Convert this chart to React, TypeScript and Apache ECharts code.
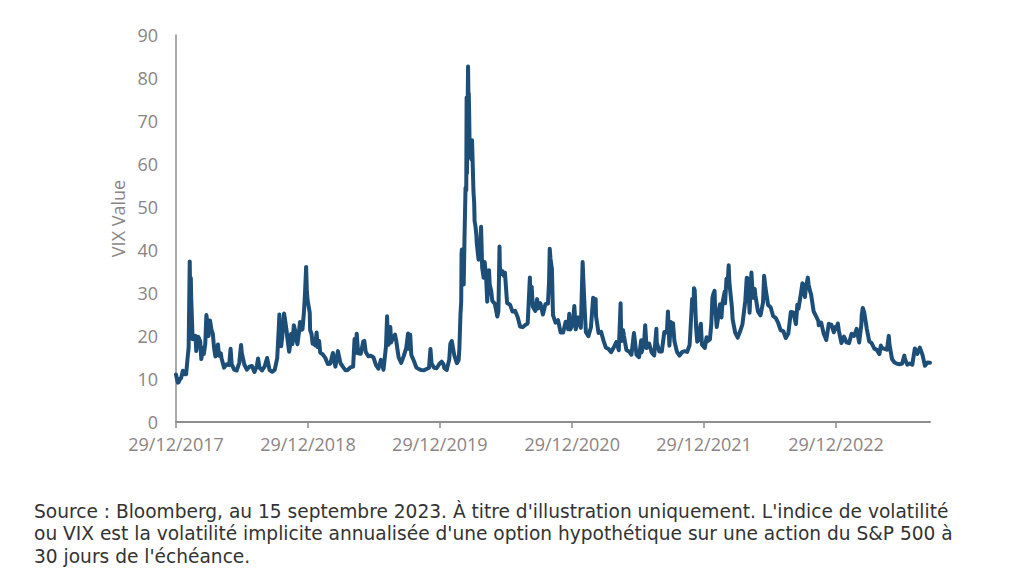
import React, { useEffect, useRef } from "react";
import * as echarts from "echarts";

const tickLabels = ["29/12/2017", "29/12/2018", "29/12/2019", "29/12/2020", "29/12/2021", "29/12/2022"];
const startDate = "2017-12-29";
const endDate = "2023-09-15";
const yTicks = { min: 0, max: 90, step: 10 };
const yAxisName = "VIX Value";
const caption =
  "Source : Bloomberg, au 15 septembre 2023. À titre d'illustration uniquement. L'indice de volatilité\nou VIX est la volatilité implicite annualisée d'une option hypothétique sur une action du S&P 500 à\n30 jours de l'échéance.";

const vix2018: [string, number][] = [
  ["2017-12-29", 11.04], ["2018-01-03", 9.15], ["2018-01-05", 9.22], ["2018-01-10", 10.08], ["2018-01-12", 10.16],
  ["2018-01-17", 11.91], ["2018-01-19", 11.27], ["2018-01-23", 11.1], ["2018-01-26", 11.08], ["2018-01-30", 14.79],
  ["2018-02-02", 17.31], ["2018-02-05", 37.32], ["2018-02-06", 29.98], ["2018-02-07", 27.73], ["2018-02-08", 33.46],
  ["2018-02-09", 29.06], ["2018-02-13", 19.26], ["2018-02-16", 19.46], ["2018-02-21", 20.02], ["2018-02-23", 16.49],
  ["2018-02-28", 19.85], ["2018-03-02", 19.59], ["2018-03-06", 18.73], ["2018-03-09", 14.64], ["2018-03-14", 17.23],
  ["2018-03-16", 15.8], ["2018-03-20", 18.2], ["2018-03-23", 24.87], ["2018-03-27", 22.5], ["2018-03-29", 19.97],
  ["2018-04-02", 23.62], ["2018-04-06", 21.49], ["2018-04-10", 20.47], ["2018-04-13", 17.41], ["2018-04-17", 15.25],
  ["2018-04-20", 16.88], ["2018-04-24", 18.02], ["2018-04-27", 15.41], ["2018-05-02", 15.97], ["2018-05-04", 14.77],
  ["2018-05-11", 12.65], ["2018-05-18", 13.42], ["2018-05-25", 13.22], ["2018-05-29", 17.02], ["2018-06-01", 13.46],
  ["2018-06-08", 12.18], ["2018-06-15", 11.98], ["2018-06-22", 13.77], ["2018-06-27", 17.91], ["2018-06-29", 16.09],
  ["2018-07-06", 13.37], ["2018-07-13", 12.18], ["2018-07-20", 12.86], ["2018-07-27", 13.03], ["2018-08-03", 11.64],
  ["2018-08-10", 13.16], ["2018-08-13", 14.78], ["2018-08-17", 12.64], ["2018-08-24", 11.99], ["2018-08-31", 12.86],
  ["2018-09-07", 14.88], ["2018-09-14", 12.07], ["2018-09-21", 11.68], ["2018-09-28", 12.12], ["2018-10-05", 14.82],
  ["2018-10-10", 22.96], ["2018-10-11", 24.98], ["2018-10-12", 21.31], ["2018-10-16", 17.62], ["2018-10-19", 19.89],
  ["2018-10-24", 25.23], ["2018-10-26", 24.16], ["2018-10-31", 21.23], ["2018-11-02", 19.51], ["2018-11-07", 16.36],
  ["2018-11-09", 17.36], ["2018-11-12", 20.45], ["2018-11-16", 18.14], ["2018-11-20", 22.48], ["2018-11-23", 21.52],
  ["2018-11-27", 19.02], ["2018-11-30", 18.07], ["2018-12-04", 20.74], ["2018-12-07", 23.23], ["2018-12-12", 21.46],
  ["2018-12-14", 21.63], ["2018-12-18", 25.58], ["2018-12-21", 30.11], ["2018-12-24", 36.07], ["2018-12-26", 30.41],
  ["2018-12-28", 28.34],
];

const vix2019: [string, number][] = [
  ["2019-01-03", 25.45], ["2019-01-04", 21.38], ["2019-01-08", 20.47], ["2019-01-11", 18.19], ["2019-01-15", 18.6],
  ["2019-01-18", 17.8], ["2019-01-22", 20.8], ["2019-01-25", 17.42], ["2019-01-29", 18.87], ["2019-02-01", 16.14],
  ["2019-02-08", 15.72], ["2019-02-15", 14.91], ["2019-02-22", 13.51], ["2019-03-01", 13.57], ["2019-03-08", 16.05],
  ["2019-03-15", 12.88], ["2019-03-22", 16.48], ["2019-03-29", 13.71], ["2019-04-05", 12.82], ["2019-04-12", 12.01],
  ["2019-04-18", 12.09], ["2019-04-26", 12.73], ["2019-05-03", 12.87], ["2019-05-07", 19.32], ["2019-05-10", 16.04],
  ["2019-05-13", 20.55], ["2019-05-17", 15.96], ["2019-05-24", 15.85], ["2019-05-31", 18.71], ["2019-06-03", 18.86],
  ["2019-06-07", 16.3], ["2019-06-14", 15.28], ["2019-06-21", 15.4], ["2019-06-28", 15.08], ["2019-07-05", 13.28],
  ["2019-07-12", 12.39], ["2019-07-19", 14.45], ["2019-07-26", 12.16], ["2019-08-02", 17.61], ["2019-08-05", 24.59],
  ["2019-08-07", 19.49], ["2019-08-09", 17.97], ["2019-08-14", 22.1], ["2019-08-16", 18.47], ["2019-08-23", 19.87],
  ["2019-08-27", 20.31], ["2019-08-30", 18.98], ["2019-09-06", 15.0], ["2019-09-13", 13.74], ["2019-09-20", 15.32],
  ["2019-09-27", 17.22], ["2019-10-02", 20.56], ["2019-10-04", 17.04], ["2019-10-08", 20.28], ["2019-10-11", 15.58],
  ["2019-10-18", 14.25], ["2019-10-25", 12.65], ["2019-11-01", 12.3], ["2019-11-08", 12.07], ["2019-11-15", 12.05],
  ["2019-11-22", 12.34], ["2019-11-29", 12.62], ["2019-12-03", 16.97], ["2019-12-06", 13.62], ["2019-12-13", 12.63],
  ["2019-12-20", 12.51], ["2019-12-27", 13.43],
];

const vix2020: [string, number][] = [
  ["2019-12-31", 13.78], ["2020-01-03", 14.02], ["2020-01-08", 13.45], ["2020-01-10", 12.56], ["2020-01-17", 12.1],
  ["2020-01-24", 14.56], ["2020-01-27", 18.23], ["2020-01-31", 18.84], ["2020-02-07", 15.47], ["2020-02-14", 13.68],
  ["2020-02-19", 14.38], ["2020-02-21", 17.08], ["2020-02-24", 25.03], ["2020-02-26", 27.85], ["2020-02-27", 39.16],
  ["2020-02-28", 40.11], ["2020-03-03", 36.82], ["2020-03-04", 31.99], ["2020-03-06", 41.94], ["2020-03-09", 54.46],
  ["2020-03-11", 53.9], ["2020-03-12", 75.47], ["2020-03-13", 57.83], ["2020-03-16", 82.69], ["2020-03-17", 75.91],
  ["2020-03-18", 76.45], ["2020-03-19", 72.0], ["2020-03-20", 66.04], ["2020-03-23", 61.59], ["2020-03-24", 61.67],
  ["2020-03-26", 61.0], ["2020-03-27", 65.54], ["2020-03-31", 53.54], ["2020-04-02", 50.91], ["2020-04-03", 46.8],
  ["2020-04-06", 45.24], ["2020-04-08", 43.35], ["2020-04-09", 41.67], ["2020-04-14", 37.76], ["2020-04-17", 38.15],
  ["2020-04-21", 45.41], ["2020-04-24", 35.93], ["2020-04-28", 33.57], ["2020-05-01", 37.19], ["2020-05-05", 33.61],
  ["2020-05-08", 27.98], ["2020-05-13", 35.28], ["2020-05-15", 31.89], ["2020-05-19", 30.53], ["2020-05-22", 28.16],
  ["2020-05-29", 27.51], ["2020-06-05", 24.52], ["2020-06-08", 25.81], ["2020-06-11", 40.79], ["2020-06-12", 36.09],
  ["2020-06-15", 34.4], ["2020-06-19", 35.12], ["2020-06-24", 33.84], ["2020-06-26", 34.73], ["2020-07-02", 27.68],
  ["2020-07-10", 27.29], ["2020-07-17", 25.68], ["2020-07-24", 25.84], ["2020-07-31", 24.46], ["2020-08-07", 22.21],
  ["2020-08-14", 22.05], ["2020-08-21", 22.54], ["2020-08-28", 22.96], ["2020-09-03", 33.6], ["2020-09-04", 30.75],
  ["2020-09-08", 31.46], ["2020-09-11", 26.87], ["2020-09-18", 25.83], ["2020-09-23", 28.58], ["2020-09-25", 26.38],
  ["2020-10-02", 27.63], ["2020-10-09", 25.0], ["2020-10-16", 27.41], ["2020-10-23", 27.55], ["2020-10-26", 32.46],
  ["2020-10-28", 40.28], ["2020-10-30", 38.02], ["2020-11-03", 35.55], ["2020-11-06", 24.86], ["2020-11-13", 23.1],
  ["2020-11-20", 23.7], ["2020-11-27", 20.84], ["2020-12-04", 20.79], ["2020-12-11", 23.31], ["2020-12-18", 21.57],
  ["2020-12-21", 25.16], ["2020-12-24", 21.53], ["2020-12-31", 22.75],
];

const vix2021: [string, number][] = [
  ["2021-01-04", 26.97], ["2021-01-08", 21.56], ["2021-01-15", 24.34], ["2021-01-22", 21.91], ["2021-01-27", 37.21],
  ["2021-01-29", 33.09], ["2021-02-02", 25.56], ["2021-02-05", 20.87], ["2021-02-12", 19.97], ["2021-02-19", 22.05],
  ["2021-02-25", 28.89], ["2021-02-26", 27.95], ["2021-03-04", 28.57], ["2021-03-05", 24.66], ["2021-03-12", 20.69],
  ["2021-03-19", 20.95], ["2021-03-26", 18.86], ["2021-04-01", 17.33], ["2021-04-09", 16.95], ["2021-04-16", 16.25],
  ["2021-04-23", 17.33], ["2021-04-30", 18.61], ["2021-05-07", 16.69], ["2021-05-12", 27.59], ["2021-05-14", 18.81],
  ["2021-05-19", 21.34], ["2021-05-21", 20.15], ["2021-05-28", 16.76], ["2021-06-04", 16.42], ["2021-06-11", 15.65],
  ["2021-06-18", 20.7], ["2021-06-25", 15.62], ["2021-07-02", 15.07], ["2021-07-08", 19.0], ["2021-07-09", 16.18],
  ["2021-07-16", 18.45], ["2021-07-19", 22.5], ["2021-07-23", 17.2], ["2021-07-30", 18.24], ["2021-08-06", 16.15],
  ["2021-08-13", 15.45], ["2021-08-19", 21.67], ["2021-08-20", 18.56], ["2021-08-27", 16.39], ["2021-09-03", 16.41],
  ["2021-09-10", 20.95], ["2021-09-17", 20.81], ["2021-09-20", 25.71], ["2021-09-24", 17.75], ["2021-09-28", 23.25],
  ["2021-10-01", 21.15], ["2021-10-04", 22.96], ["2021-10-08", 18.77], ["2021-10-15", 16.3], ["2021-10-22", 15.43],
  ["2021-10-29", 16.26], ["2021-11-05", 16.48], ["2021-11-12", 16.29], ["2021-11-19", 17.91], ["2021-11-26", 28.62],
  ["2021-11-30", 27.19], ["2021-12-01", 31.12], ["2021-12-03", 30.67], ["2021-12-07", 21.89], ["2021-12-10", 18.69],
  ["2021-12-15", 19.29], ["2021-12-17", 21.57], ["2021-12-20", 22.87], ["2021-12-23", 17.96], ["2021-12-31", 17.22],
];

const vix2022: [string, number][] = [
  ["2022-01-05", 19.73], ["2022-01-07", 18.76], ["2022-01-14", 19.19], ["2022-01-18", 22.79], ["2022-01-21", 28.85],
  ["2022-01-24", 29.9], ["2022-01-27", 30.49], ["2022-01-28", 27.66], ["2022-02-02", 22.09], ["2022-02-04", 23.22],
  ["2022-02-11", 27.36], ["2022-02-15", 24.29], ["2022-02-18", 27.75], ["2022-02-24", 30.32], ["2022-02-25", 27.59],
  ["2022-03-01", 33.32], ["2022-03-04", 31.98], ["2022-03-07", 36.45], ["2022-03-09", 32.45], ["2022-03-11", 30.75],
  ["2022-03-16", 26.67], ["2022-03-18", 23.87], ["2022-03-25", 20.81], ["2022-04-01", 19.63], ["2022-04-08", 21.16],
  ["2022-04-14", 22.7], ["2022-04-22", 28.21], ["2022-04-26", 33.52], ["2022-04-29", 33.4], ["2022-05-04", 25.42],
  ["2022-05-06", 30.19], ["2022-05-09", 34.75], ["2022-05-13", 28.87], ["2022-05-18", 30.96], ["2022-05-20", 29.43],
  ["2022-05-27", 25.72], ["2022-06-03", 24.79], ["2022-06-10", 27.75], ["2022-06-13", 34.02], ["2022-06-17", 31.13],
  ["2022-06-24", 27.23], ["2022-07-01", 26.7], ["2022-07-08", 24.64], ["2022-07-15", 24.23], ["2022-07-22", 23.03],
  ["2022-07-29", 21.33], ["2022-08-05", 21.15], ["2022-08-12", 19.53], ["2022-08-19", 20.6], ["2022-08-26", 25.56],
  ["2022-09-02", 25.47], ["2022-09-09", 22.79], ["2022-09-13", 27.27], ["2022-09-16", 26.3], ["2022-09-23", 29.92],
  ["2022-09-27", 32.27], ["2022-09-30", 31.62], ["2022-10-04", 29.07], ["2022-10-07", 31.36], ["2022-10-12", 33.57],
  ["2022-10-14", 32.02], ["2022-10-18", 30.5], ["2022-10-21", 29.69], ["2022-10-28", 25.75], ["2022-11-04", 24.55],
  ["2022-11-10", 23.53], ["2022-11-11", 22.52], ["2022-11-18", 23.12], ["2022-11-25", 20.5], ["2022-12-02", 19.06],
  ["2022-12-09", 22.83], ["2022-12-13", 22.55], ["2022-12-16", 22.62], ["2022-12-23", 20.87], ["2022-12-28", 22.14],
  ["2022-12-30", 21.67],
];

const vix2023: [string, number][] = [
  ["2023-01-03", 22.9], ["2023-01-06", 21.13], ["2023-01-13", 18.35], ["2023-01-20", 19.85], ["2023-01-27", 18.51],
  ["2023-02-03", 18.33], ["2023-02-10", 20.53], ["2023-02-17", 20.02], ["2023-02-24", 21.67], ["2023-03-03", 18.49],
  ["2023-03-09", 22.61], ["2023-03-10", 24.8], ["2023-03-13", 26.52], ["2023-03-17", 25.51], ["2023-03-24", 21.74],
  ["2023-03-31", 18.7], ["2023-04-06", 18.4], ["2023-04-14", 17.07], ["2023-04-21", 16.77], ["2023-04-28", 15.78],
  ["2023-05-02", 17.78], ["2023-05-05", 17.19], ["2023-05-12", 17.03], ["2023-05-19", 16.81], ["2023-05-24", 20.03],
  ["2023-05-26", 17.95], ["2023-06-02", 14.6], ["2023-06-09", 13.83], ["2023-06-16", 13.54], ["2023-06-23", 13.44],
  ["2023-06-30", 13.59], ["2023-07-06", 15.44], ["2023-07-07", 14.83], ["2023-07-14", 13.34], ["2023-07-21", 13.6],
  ["2023-07-28", 13.33], ["2023-08-04", 17.1], ["2023-08-11", 15.85], ["2023-08-18", 17.3], ["2023-08-25", 15.68],
  ["2023-09-01", 13.09], ["2023-09-08", 13.84], ["2023-09-15", 13.79],
];

const isoToTs = (s: string) => {
  const [y, m, d] = s.split("-").map(Number);
  return Date.UTC(y, m - 1, d);
};
const labelToTs = (s: string) => {
  const [d, m, y] = s.split("/").map(Number);
  return Date.UTC(y, m - 1, d);
};
const pad = (n: number) => (n < 10 ? "0" + n : "" + n);
const tsToLabel = (t: number) => {
  const dt = new Date(t);
  return pad(dt.getUTCDate()) + "/" + pad(dt.getUTCMonth() + 1) + "/" + dt.getUTCFullYear();
};

export default function App() {
  const ref = useRef<HTMLDivElement>(null);
  useEffect(() => {
    if (!ref.current) return;
    const chart = echarts.init(ref.current, undefined, { renderer: "svg" });
    const all = [...vix2018, ...vix2019, ...vix2020, ...vix2021, ...vix2022, ...vix2023];
    const data = all.map(([d, v]) => [isoToTs(d), v]);
    const ticks = tickLabels.map(labelToTs);
    const axisColor = "#8e8e8e";
    const labelColor = "#8a8483";
    chart.setOption({
      animation: false,
      backgroundColor: "#ffffff",
      textStyle: { fontFamily: "Open Sans" },
      title: {
        text: caption,
        left: 29,
        top: 495,
        textStyle: {
          fontFamily: "DejaVu Sans",
          fontSize: 18.6,
          lineHeight: 22.5,
          fontWeight: "normal",
          color: "#333333",
        },
      },
      grid: { left: 176, right: 94, top: 35, bottom: 164, containLabel: false },
      xAxis: {
        type: "value",
        min: isoToTs(startDate),
        max: isoToTs(endDate),
        splitLine: { show: false },
        axisLine: { show: true, lineStyle: { color: axisColor, width: 2 } },
        axisTick: { show: true, customValues: ticks, length: 6, lineStyle: { color: axisColor, width: 1.5 } },
        axisLabel: {
          customValues: ticks,
          formatter: (v: number) => tsToLabel(v),
          color: labelColor,
          fontSize: 18,
          margin: 13,
          fontFamily: "Open Sans",
        },
      },
      yAxis: {
        type: "value",
        min: yTicks.min,
        max: yTicks.max,
        interval: yTicks.step,
        name: yAxisName,
        nameLocation: "middle",
        nameGap: 48,
        nameTextStyle: { color: labelColor, fontSize: 18, fontFamily: "Open Sans", padding: [0, 0, 0, 20] },
        splitLine: { show: false },
        axisTick: { show: false },
        axisLine: { show: true, lineStyle: { color: axisColor, width: 1.5 } },
        axisLabel: { color: labelColor, fontSize: 18, margin: 18, fontFamily: "Open Sans" },
      },
      series: [
        {
          type: "line",
          data,
          showSymbol: false,
          symbol: "none",
          lineStyle: { color: "#1d4e78", width: 4, join: "round", cap: "round" },
          z: 3,
        },
      ],
    });
    return () => chart.dispose();
  }, []);
  return <div ref={ref} style={{ position: "fixed", left: 0, top: 0, width: 1024, height: 586 }} />;
}
